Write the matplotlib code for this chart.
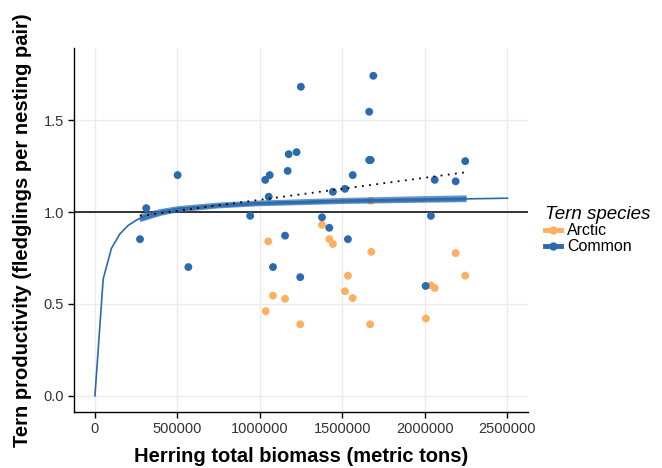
import matplotlib
matplotlib.use("Agg")
import matplotlib.pyplot as plt
from matplotlib.lines import Line2D

plt.rcParams['font.family'] = ['Liberation Sans', 'DejaVu Sans']

ARCTIC = "#fdb062"
COMMON = "#2b6aae"

# Common tern points (herring biomass, productivity)
common_x = [273000, 311000, 501000, 566000, 941000, 1032000, 1053000, 1059000,
            1079000, 1152000, 1168000, 1174000, 1222000, 1244000, 1248000,
            1376000, 1420000, 1442000, 1515000, 1533000, 1562000, 1662000,
            1671000, 1662000, 1687000, 2004000, 2036000, 2059000, 2186000, 2244000]
common_y = [0.853, 1.022, 1.202, 0.701, 0.980, 1.176, 1.084, 1.202,
            0.701, 0.872, 1.225, 1.316, 1.327, 0.646, 1.683,
            0.972, 0.915, 1.111, 1.127, 0.853, 1.202, 1.284,
            1.284, 1.547, 1.743, 0.598, 0.980, 1.176, 1.168, 1.278]

# Arctic tern points
arctic_x = [1050000, 1376000, 1420000, 1442000, 1079000, 1152000, 1035000,
            1244000, 1675000, 1668000, 1533000, 1515000, 1562000, 1671000,
            2186000, 2244000, 2036000, 2059000, 2006000]
arctic_y = [0.841, 0.931, 0.853, 0.826, 0.545, 0.528, 0.461,
            0.389, 0.784, 0.389, 0.654, 0.569, 0.532, 1.062,
            0.777, 0.654, 0.601, 0.587, 0.421]

# saturating model curve
curve_x = [0, 50000, 100000, 150000, 200000, 250000, 300000, 400000, 500000,
           750000, 1000000, 1500000, 2000000, 2500000]
curve_y = [0.0, 0.636, 0.803, 0.880, 0.927, 0.956, 0.978, 1.005, 1.020,
           1.040, 1.051, 1.063, 1.069, 1.076]

# bundle of fitted curves over the data range
band_x = [280000, 400000, 500000, 750000, 1000000, 1500000, 2000000, 2244000]
band_lo = [0.955, 0.988, 1.006, 1.028, 1.040, 1.052, 1.059, 1.062]
band_mid = [0.968, 0.998, 1.015, 1.036, 1.047, 1.061, 1.069, 1.073]
band_hi = [0.984, 1.010, 1.025, 1.045, 1.056, 1.070, 1.080, 1.084]

# linear trend (dotted)
trend_x = [273000, 2244000]
trend_y = [0.980, 1.217]

xticks = [0, 500000, 1000000, 1500000, 2000000, 2500000]
yticks = [0.0, 0.5, 1.0, 1.5]

fig = plt.figure(figsize=(6.62, 4.68), dpi=100)
ax = fig.add_axes([0.1125, 0.1203, 0.6845, 0.7770])

ax.set_xlim(-124000, 2622000)
ax.set_ylim(-0.087, 1.894)
ax.set_xticks(xticks)
ax.set_xticklabels([str(v) for v in xticks])
ax.set_yticks(yticks)
ax.set_yticklabels(["%.1f" % v for v in yticks])
ax.grid(True, color="#ebebeb", linewidth=1.0, zorder=0)
ax.set_axisbelow(True)

for s in ["top", "right"]:
    ax.spines[s].set_visible(False)
for s in ["left", "bottom"]:
    ax.spines[s].set_linewidth(1.0)
    ax.spines[s].set_color("black")
ax.tick_params(axis="both", direction="out", length=4, width=1, color="black",
               labelsize=10.5, labelcolor="#333333")

ax.axhline(1.0, color="black", linewidth=1.1, zorder=2)

ax.scatter(arctic_x, arctic_y, s=32, color=ARCTIC, edgecolors="none", zorder=3)
ax.scatter(common_x, common_y, s=32, color=COMMON, edgecolors="none", zorder=3)

ax.plot(curve_x, curve_y, color=COMMON, linewidth=1.2, zorder=4)
for yy in [band_lo, band_mid, band_hi]:
    ax.plot(band_x, yy, color=COMMON, linewidth=2.0, alpha=0.7, zorder=4)
ax.fill_between(band_x, band_lo, band_hi, color=COMMON, alpha=0.6,
                linewidth=0, zorder=4)

ax.plot(trend_x, trend_y, color="black", linestyle=(0, (1, 3)), linewidth=1.3,
        zorder=5)

ax.set_xlabel("Herring total biomass (metric tons)", fontsize=14.5,
              fontweight="bold", labelpad=8)
ax.set_ylabel("Tern productivity (fledglings per nesting pair)", fontsize=14.5,
              fontweight="bold", labelpad=8)

handles = [Line2D([0], [0], color=ARCTIC, linewidth=3.5, marker="o", markersize=5),
           Line2D([0], [0], color=COMMON, linewidth=3.5, marker="o", markersize=5)]
leg = ax.legend(handles, ["Arctic", "Common"], title="Tern species",
                loc="center left", bbox_to_anchor=(1.025, 0.5), frameon=False,
                fontsize=11.5, handlelength=1.0, handletextpad=0.35,
                labelspacing=0.05, borderaxespad=0)
leg.get_title().set_fontsize(13.5)
leg.get_title().set_fontstyle("italic")
leg._legend_box.align = "left"

fig.savefig("out.png", dpi=100)
